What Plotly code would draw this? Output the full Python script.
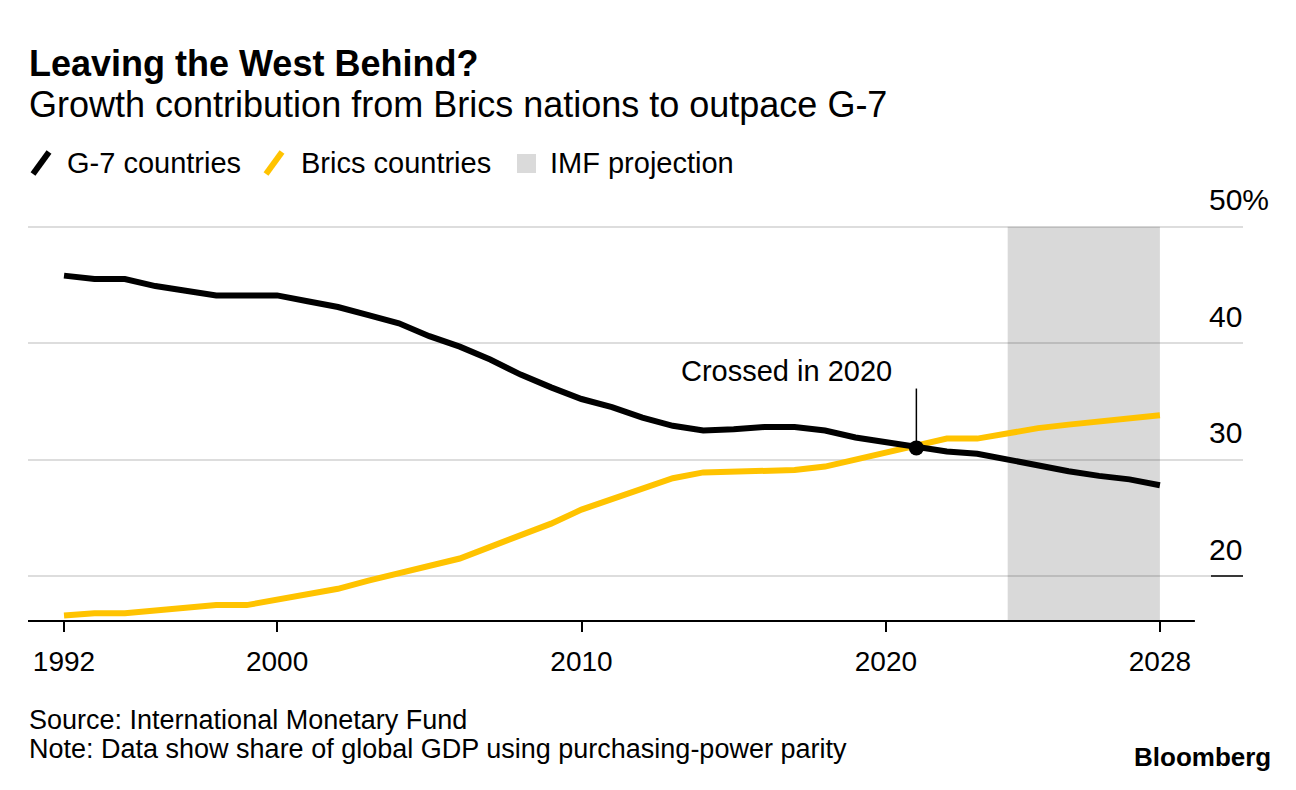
import plotly.graph_objects as go

# ---------------- data ----------------
years = [1992, 1993, 1994, 1995, 1996, 1997, 1998, 1999, 2000, 2001,
         2002, 2003, 2004, 2005, 2006, 2007, 2008, 2009, 2010, 2011,
         2012, 2013, 2014, 2015, 2016, 2017, 2018, 2019, 2020, 2021,
         2022, 2023, 2024, 2025, 2026, 2027, 2028]
g7 = [45.8, 45.5, 45.5, 44.9, 44.5, 44.1, 44.1, 44.1, 43.6, 43.1,
      42.4, 41.7, 40.6, 39.7, 38.6, 37.3, 36.2, 35.2, 34.5, 33.6,
      32.9, 32.5, 32.6, 32.8, 32.8, 32.5, 31.9, 31.5, 31.0, 30.7,
      30.5, 30.0, 29.4, 29.0, 28.6, 28.3, 27.8]
brics = [16.6, 16.8, 16.8, 17.0, 17.2, 17.5, 17.5, 18.0, 18.4, 18.9,
         19.6, 20.2, 20.9, 21.5, 22.5, 23.5, 24.5, 25.7, 26.6, 27.4,
         28.4, 28.9, 29.0, 29.1, 29.1, 29.4, 30.0, 30.5, 31.2, 31.8,
         31.8, 32.3, 32.7, 33.0, 33.3, 33.5, 33.8]
x_tick_vals = [1992, 1999, 2009, 2019, 2028]
x_tick_text = ["1992", "2000", "2010", "2020", "2028"]
y_tick_vals = [20, 30, 40, 50]
y_tick_text = ["20", "30", "40", "50%"]
projection_start = 2023
projection_end = 2028
cross_year = 2020
cross_value = 31.0

series_names = ["G-7 countries", "Brics countries", "IMF projection"]
title = "Leaving the West Behind?"
subtitle = "Growth contribution from Brics nations to outpace G-7"
annotation_text = "Crossed in 2020"
source_text = "Source: International Monetary Fund"
note_text = "Note: Data show share of global GDP using purchasing-power parity"

# ---------------- style / geometry ----------------
W, H = 1296, 790
PL, PR, PT, PB = 28, 1243, 221, 621
FONT = "Liberation Sans"
BLACK = "#000000"
YELLOW = "#FFC300"
GRID = "#DDDDDD"
SHADE = "rgba(0,0,0,0.15)"

X_RANGE = [1990.817, 2030.73]
Y_RANGE = [16.135, 50.49]
X_AXIS_END = 2029.15


def px(x):
    return (x - PL) / (PR - PL)


def py(y):
    return (PB - y) / (PB - PT)


fig = go.Figure()

fig.add_trace(go.Scatter(x=years, y=brics, mode="lines", name=series_names[1],
                         line=dict(color=YELLOW, width=6), showlegend=False,
                         hoverinfo="skip"))
fig.add_trace(go.Scatter(x=years, y=g7, mode="lines", name=series_names[0],
                         line=dict(color=BLACK, width=6), showlegend=False,
                         hoverinfo="skip"))
fig.add_trace(go.Scatter(x=[cross_year], y=[cross_value], mode="markers",
                         marker=dict(color=BLACK, size=15), showlegend=False,
                         hoverinfo="skip"))

shapes = []
# projection shading
shapes.append(dict(type="rect", xref="x", yref="y", x0=projection_start, x1=projection_end,
                   y0=Y_RANGE[0], y1=max(y_tick_vals), fillcolor=SHADE, line=dict(width=0),
                   layer="between"))
# x-axis baseline
shapes.append(dict(type="line", xref="x", yref="paper", x0=X_RANGE[0], x1=X_AXIS_END,
                   y0=0, y1=0, line=dict(color=BLACK, width=2), layer="above"))
# small dark mark under "20"
shapes.append(dict(type="line", xref="paper", yref="y", x0=px(1211), x1=1,
                   y0=min(y_tick_vals), y1=min(y_tick_vals),
                   line=dict(color=BLACK, width=1.5), layer="above"))
# annotation leader line
shapes.append(dict(type="line", xref="x", yref="y", x0=cross_year, x1=cross_year,
                   y0=cross_value, y1=cross_value + 5.1,
                   line=dict(color=BLACK, width=1.5), layer="above"))

# custom legend icons
shapes.append(dict(type="line", xref="paper", yref="paper", x0=px(33), x1=px(49),
                   y0=py(174), y1=py(152), line=dict(color=BLACK, width=6)))
shapes.append(dict(type="line", xref="paper", yref="paper", x0=px(266), x1=px(282),
                   y0=py(174), y1=py(152), line=dict(color=YELLOW, width=6)))
shapes.append(dict(type="rect", xref="paper", yref="paper", x0=px(517), x1=px(536),
                   y0=py(173), y1=py(154), fillcolor="#DADADA", line=dict(width=0)))

annotations = []


def text(x, y, s, size, bold=False, anchor="left", xref="paper", yref="paper",
         yshift=0, xshift=0):
    annotations.append(dict(
        x=x, y=y, xref=xref, yref=yref, text=("<b>%s</b>" % s) if bold else s,
        showarrow=False, xanchor=anchor, yanchor="middle", xshift=xshift, yshift=yshift,
        font=dict(family=FONT, size=size, color=BLACK)))


text(px(27), py(63), title, 36, bold=True)
text(px(27), py(105), subtitle, 36)
text(px(65), py(163), series_names[0], 29)
text(px(299), py(163), series_names[1], 29)
text(px(548), py(163), series_names[2], 29)
text(px(27), py(720), source_text, 27)
text(px(27), py(749), note_text, 27)
text(px(1273), py(757), "Bloomberg", 26, bold=True, anchor="right")

# y-axis labels above gridlines
for v, t in zip(y_tick_vals, y_tick_text):
    text(px(1207), v, t, 30, yref="y", yshift=27)

# "Crossed in 2020"
text(cross_year, cross_value, annotation_text, 29, anchor="right", xref="x", yref="y",
     xshift=-22, yshift=448 - 371)

fig.update_layout(
    width=W, height=H,
    margin=dict(l=PL, r=W - PR, t=PT, b=H - PB, pad=0),
    paper_bgcolor="white", plot_bgcolor="white",
    showlegend=False,
    shapes=shapes, annotations=annotations,
    xaxis=dict(range=X_RANGE, tickmode="array", tickvals=x_tick_vals, ticktext=x_tick_text,
               showgrid=False, zeroline=False, showline=False,
               ticks="outside", ticklen=10, tickwidth=2, tickcolor=BLACK,
               ticklabelstandoff=5,
               tickfont=dict(family=FONT, size=28, color=BLACK), fixedrange=True),
    yaxis=dict(range=Y_RANGE, tickmode="array", tickvals=y_tick_vals,
               showticklabels=False, showgrid=True, gridcolor=GRID, gridwidth=2,
               zeroline=False, showline=False, ticks="", fixedrange=True),
)

fig.write_html("out.html")
